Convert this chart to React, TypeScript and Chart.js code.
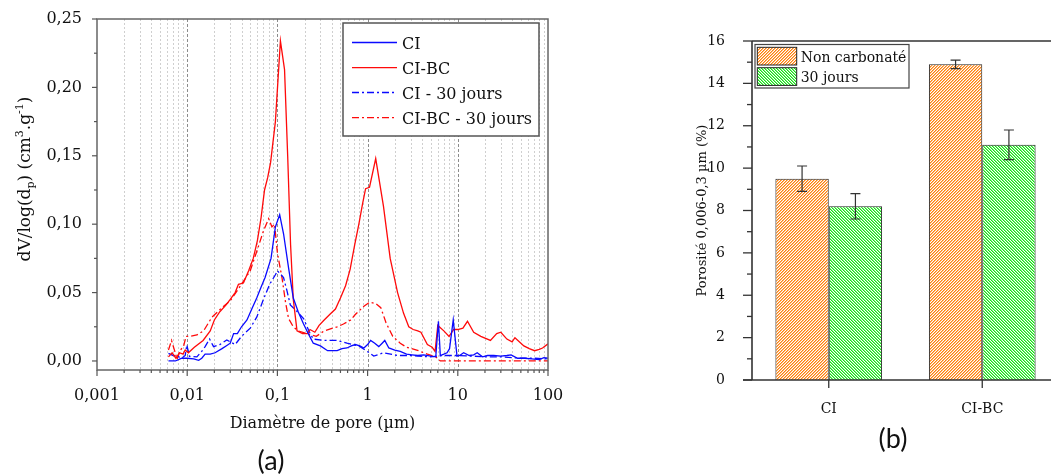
import React, { useEffect, useRef } from "react";
import { Chart, registerables } from "chart.js";

Chart.register(...registerables);

const SERIF = '"DejaVu Serif", "Liberation Serif", serif';
const SANS = 'Lato, "Liberation Sans", sans-serif';

// ---------- Panel (a): pore size distribution ----------
const ciDiameter = [0.0062, 0.0074, 0.008, 0.0087, 0.01, 0.0118, 0.0134, 0.0145, 0.0158, 0.018, 0.0204, 0.0243, 0.027, 0.03, 0.0327, 0.036, 0.04, 0.046, 0.052, 0.059, 0.066, 0.073, 0.085, 0.095, 0.106, 0.117, 0.133, 0.15, 0.17, 0.195, 0.22, 0.25, 0.3, 0.36, 0.46, 0.52, 0.59, 0.66, 0.73, 0.82, 0.91, 1.0, 1.08, 1.2, 1.33, 1.45, 1.55, 1.72, 2.0, 2.3, 2.7, 3.1, 3.6, 4.2, 5.0, 5.7, 6.1, 6.4, 7.0, 7.6, 8.1, 8.9, 9.8, 10.5, 11.6, 13.4, 15, 16.4, 18.8, 21.4, 25, 30, 35, 39, 46, 55, 66, 80, 90, 100];
const ciValue = [0, 0, 0.001, 0.002, 0.002, 0.0015, 0.0005, 0.002, 0.005, 0.005, 0.006, 0.009, 0.011, 0.013, 0.02, 0.02, 0.025, 0.03, 0.038, 0.046, 0.054, 0.061, 0.075, 0.098, 0.107, 0.093, 0.068, 0.046, 0.036, 0.027, 0.02, 0.013, 0.011, 0.0075, 0.0075, 0.009, 0.0095, 0.011, 0.012, 0.011, 0.0095, 0.012, 0.015, 0.013, 0.0105, 0.013, 0.015, 0.0095, 0.008, 0.007, 0.005, 0.0045, 0.004, 0.0045, 0.0035, 0.003, 0.029, 0.004, 0.005, 0.006, 0.009, 0.03, 0.0035, 0.004, 0.006, 0.004, 0.0045, 0.006, 0.003, 0.004, 0.004, 0.0035, 0.004, 0.0045, 0.002, 0.002, 0.0015, 0.001, 0.0025, 0.002];

const ciBcDiameter = [0.0062, 0.0068, 0.0075, 0.0082, 0.009, 0.0095, 0.0103, 0.012, 0.015, 0.018, 0.02, 0.023, 0.027, 0.03, 0.034, 0.037, 0.042, 0.048, 0.054, 0.06, 0.066, 0.072, 0.078, 0.084, 0.095, 0.108, 0.12, 0.13, 0.14, 0.15, 0.165, 0.19, 0.215, 0.23, 0.26, 0.29, 0.33, 0.38, 0.44, 0.5, 0.57, 0.64, 0.72, 0.8, 0.88, 0.95, 1.05, 1.23, 1.5, 1.78, 2.15, 2.5, 2.86, 3.2, 3.6, 3.9, 4.6, 5.2, 5.6, 6.0, 7.0, 8.0, 9.0, 10, 11.4, 12.8, 15, 18, 23, 27, 30, 35, 40, 43, 54, 62, 71, 80, 87, 100];
const ciBcValue = [0.003, 0.006, 0.002, 0.006, 0.005, 0.008, 0.006, 0.01, 0.015, 0.022, 0.03, 0.036, 0.041, 0.045, 0.05, 0.056, 0.057, 0.066, 0.075, 0.088, 0.105, 0.125, 0.134, 0.145, 0.175, 0.234, 0.213, 0.15, 0.085, 0.045, 0.022, 0.02, 0.02, 0.023, 0.021, 0.026, 0.03, 0.034, 0.038, 0.046, 0.055, 0.067, 0.085, 0.1, 0.115, 0.126, 0.127, 0.148, 0.113, 0.075, 0.05, 0.035, 0.025, 0.023, 0.022, 0.021, 0.012, 0.01, 0.007, 0.026, 0.022, 0.018, 0.023, 0.023, 0.024, 0.029, 0.021, 0.018, 0.015, 0.02, 0.021, 0.016, 0.014, 0.017, 0.011, 0.009, 0.0075, 0.0085, 0.0095, 0.0125];

const ci30Diameter = [0.0062, 0.007, 0.0077, 0.0087, 0.0095, 0.0099, 0.0106, 0.0128, 0.0145, 0.0158, 0.0177, 0.0196, 0.023, 0.0275, 0.034, 0.04, 0.05, 0.059, 0.07, 0.082, 0.095, 0.1, 0.117, 0.128, 0.139, 0.166, 0.195, 0.227, 0.25, 0.33, 0.46, 0.59, 0.8, 0.99, 1.17, 1.5, 2.15, 3.0, 5.0, 7.0, 10, 15, 20, 30, 50, 70, 100];
const ci30Value = [0.0056, 0.004, 0.0036, 0.002, 0.004, 0.0117, 0.0034, 0.003, 0.007, 0.0105, 0.016, 0.0105, 0.012, 0.0154, 0.012, 0.018, 0.024, 0.032, 0.045, 0.056, 0.063, 0.066, 0.061, 0.051, 0.041, 0.036, 0.031, 0.021, 0.016, 0.015, 0.015, 0.013, 0.011, 0.007, 0.0036, 0.006, 0.004, 0.004, 0.003, 0.004, 0.004, 0.0035, 0.003, 0.003, 0.002, 0.002, 0.0015];

const ciBc30Diameter = [0.0062, 0.0067, 0.0074, 0.0077, 0.0084, 0.0091, 0.0097, 0.0108, 0.0128, 0.0152, 0.0188, 0.0243, 0.03, 0.039, 0.05, 0.059, 0.07, 0.08, 0.087, 0.093, 0.1, 0.113, 0.123, 0.133, 0.15, 0.17, 0.213, 0.24, 0.27, 0.33, 0.46, 0.54, 0.65, 0.73, 0.91, 1.06, 1.23, 1.4, 1.6, 1.9, 2.3, 2.7, 3.5, 4.6, 5.7, 6.4, 10, 30, 100];
const ciBc30Value = [0.008, 0.015, 0.0056, 0.0012, 0.008, 0.0105, 0.018, 0.018, 0.019, 0.022, 0.032, 0.039, 0.044, 0.055, 0.066, 0.08, 0.095, 0.104, 0.098, 0.1, 0.079, 0.06, 0.043, 0.031, 0.025, 0.022, 0.02, 0.019, 0.018, 0.022, 0.025, 0.027, 0.03, 0.034, 0.04, 0.043, 0.042, 0.039, 0.028, 0.018, 0.013, 0.01, 0.008, 0.005, 0.003, 0, 0, 0, 0];

const xTickValuesA = [0.001, 0.01, 0.1, 1, 10, 100];
const xTickLabelsA = ["0,001", "0,01", "0,1", "1", "10", "100"];
const yTickValuesA = [0, 0.05, 0.1, 0.15, 0.2, 0.25];
const yTickLabelsA = ["0,00", "0,05", "0,10", "0,15", "0,20", "0,25"];
const yMinorTicksA = [0.025, 0.075, 0.125, 0.175, 0.225];
const legendLabelsA = ["CI", "CI-BC", "CI - 30 jours", "CI-BC - 30 jours"];

// ---------- Panel (b): porosity bars ----------
const categoriesB = ["CI", "CI-BC"];
const nonCarbonate = [9.5, 14.9];
const nonCarbonateErr = [0.6, 0.2];
const trenteJours = [8.2, 11.1];
const trenteJoursErr = [0.6, 0.7];
const legendLabelsB = ["Non carbonaté", "30 jours"];
const yTickValuesB = [0, 2, 4, 6, 8, 10, 12, 14, 16];
const yMinorTicksB = [1, 3, 5, 7, 9, 11, 13, 15];

const BLUE = "#0a0aff";
const RED = "#ff0a0a";
const DASHDOT = [7, 3, 2, 3];

function pts(xs: number[], ys: number[]) {
  return xs.map((x, i) => ({ x, y: ys[i] }));
}

function drawRich(ctx: any, segs: any[], cx: number, cy: number, rotate: boolean) {
  ctx.save();
  ctx.translate(cx, cy);
  if (rotate) ctx.rotate(-Math.PI / 2);
  let total = 0;
  const widths = segs.map((s) => {
    ctx.font = `${s.size}px ${SERIF}`;
    const w = ctx.measureText(s.t).width;
    total += w;
    return w;
  });
  let x = -total / 2;
  ctx.fillStyle = "#111";
  ctx.textBaseline = "alphabetic";
  ctx.textAlign = "left";
  segs.forEach((s, i) => {
    ctx.font = `${s.size}px ${SERIF}`;
    ctx.fillText(s.t, x, s.dy);
    x += widths[i];
  });
  ctx.restore();
}

function buildA(canvas: HTMLCanvasElement) {
  const W = 600, H = 475;
  const LEFT = 97, RIGHT = 548, TOP = 19, BOTTOM = 370;

  const decor = {
    id: "decorA",
    beforeDatasetsDraw(chart: any) {
      const { ctx, chartArea: a } = chart;
      const xs = chart.scales.x;
      ctx.save();
      ctx.lineWidth = 1;
      for (let e = -3; e <= 1; e++) {
        for (let m = 1; m <= 9; m++) {
          const v = m * Math.pow(10, e);
          if (e === -3 && m === 1) continue;
          const px = Math.round(xs.getPixelForValue(v)) + 0.5;
          ctx.beginPath();
          if (m === 1) {
            ctx.strokeStyle = "#8c8c8c";
            ctx.setLineDash([3, 2]);
          } else {
            ctx.strokeStyle = "#cfcfcf";
            ctx.setLineDash([2, 2]);
          }
          ctx.moveTo(px, a.top);
          ctx.lineTo(px, a.bottom);
          ctx.stroke();
        }
      }
      ctx.restore();
    },
    afterDatasetsDraw(chart: any) {
      const { ctx, chartArea: a } = chart;
      const xs = chart.scales.x;
      const ys = chart.scales.y;
      ctx.save();
      ctx.setLineDash([]);
      ctx.strokeStyle = "#666";
      ctx.lineWidth = 1.5;
      ctx.strokeRect(a.left, a.top, a.right - a.left, a.bottom - a.top);
      ctx.lineWidth = 1.2;
      ctx.strokeStyle = "#555";
      yTickValuesA.forEach((v) => {
        const py = ys.getPixelForValue(v);
        ctx.beginPath();
        ctx.moveTo(a.left - 5, py);
        ctx.lineTo(a.left, py);
        ctx.stroke();
      });
      yMinorTicksA.forEach((v) => {
        const py = ys.getPixelForValue(v);
        ctx.beginPath();
        ctx.moveTo(a.left - 3, py);
        ctx.lineTo(a.left, py);
        ctx.stroke();
      });
      for (let e = -3; e <= 2; e++) {
        for (let m = 1; m <= 9; m++) {
          const v = m * Math.pow(10, e);
          if (v > 100.0001) continue;
          const px = xs.getPixelForValue(v);
          ctx.beginPath();
          ctx.moveTo(px, a.bottom);
          ctx.lineTo(px, a.bottom + (m === 1 ? 6 : 3));
          ctx.stroke();
        }
      }
      // legend
      const bx = 343, by = 23, bw = 196, bh = 113;
      ctx.fillStyle = "#fff";
      ctx.fillRect(bx, by, bw, bh);
      ctx.strokeStyle = "#555";
      ctx.lineWidth = 1.5;
      ctx.strokeRect(bx, by, bw, bh);
      const rows = [42.5, 67.7, 92.5, 117.7];
      const colors = [BLUE, RED, BLUE, RED];
      rows.forEach((ry, i) => {
        ctx.beginPath();
        ctx.strokeStyle = colors[i];
        ctx.lineWidth = 1.3;
        ctx.setLineDash(i >= 2 ? DASHDOT : []);
        ctx.moveTo(352, ry);
        ctx.lineTo(397, ry);
        ctx.stroke();
        ctx.setLineDash([]);
        ctx.fillStyle = "#111";
        ctx.font = `16px ${SERIF}`;
        ctx.textAlign = "left";
        ctx.textBaseline = "alphabetic";
        ctx.fillText(legendLabelsA[i], 402, ry + 6.5);
      });
      ctx.restore();
      drawRich(ctx, [{ t: "Diamètre de pore (µm)", size: 16, dy: 0 }], (a.left + a.right) / 2, 428, false);
      drawRich(
        ctx,
        [
          { t: "dV/log(d", size: 17, dy: 0 },
          { t: "p", size: 11, dy: 4 },
          { t: ") (cm", size: 17, dy: 0 },
          { t: "3", size: 11, dy: -7 },
          { t: ".g", size: 17, dy: 0 },
          { t: "-1", size: 11, dy: -7 },
          { t: ")", size: 17, dy: 0 },
        ],
        30,
        179,
        true
      );
      ctx.save();
      ctx.fillStyle = "#111";
      ctx.font = `27px ${SANS}`;
      ctx.textAlign = "center";
      ctx.textBaseline = "middle";
      ctx.fillText("(a)", 271, 461);
      ctx.restore();
    },
  };

  return new Chart(canvas, {
    type: "line",
    data: {
      datasets: [
        { label: legendLabelsA[0], data: pts(ciDiameter, ciValue), borderColor: BLUE, borderWidth: 1.3, pointRadius: 0, tension: 0, fill: false },
        { label: legendLabelsA[1], data: pts(ciBcDiameter, ciBcValue), borderColor: RED, borderWidth: 1.3, pointRadius: 0, tension: 0, fill: false },
        { label: legendLabelsA[2], data: pts(ci30Diameter, ci30Value), borderColor: BLUE, borderWidth: 1.3, borderDash: DASHDOT, pointRadius: 0, tension: 0, fill: false },
        { label: legendLabelsA[3], data: pts(ciBc30Diameter, ciBc30Value), borderColor: RED, borderWidth: 1.3, borderDash: DASHDOT, pointRadius: 0, tension: 0, fill: false },
      ],
    } as any,
    options: {
      animation: false,
      responsive: false,
      maintainAspectRatio: false,
      events: [],
      layout: { padding: { left: 0, top: TOP, right: W - RIGHT, bottom: 0 } },
      plugins: { legend: { display: false }, tooltip: { enabled: false } },
      scales: {
        x: {
          type: "logarithmic",
          min: 0.001,
          max: 100,
          grid: { display: false },
          border: { display: false },
          afterBuildTicks: (s: any) => {
            s.ticks = xTickValuesA.map((v) => ({ value: v }));
          },
          afterFit: (s: any) => {
            s.height = H - BOTTOM;
          },
          ticks: {
            autoSkip: false,
            maxRotation: 0,
            padding: 8,
            color: "#111",
            font: { family: SERIF, size: 16 },
            callback: (v: any) => {
              const i = xTickValuesA.findIndex((t) => Math.abs(t - v) / t < 1e-6);
              return i >= 0 ? xTickLabelsA[i] : "";
            },
          },
        },
        y: {
          type: "linear",
          min: -0.0066,
          max: 0.25,
          grid: { display: false },
          border: { display: false },
          afterBuildTicks: (s: any) => {
            s.ticks = yTickValuesA.map((v) => ({ value: v }));
          },
          afterFit: (s: any) => {
            s.width = LEFT;
          },
          ticks: {
            autoSkip: false,
            padding: 7,
            color: "#111",
            font: { family: SERIF, size: 16 },
            callback: (v: any) => {
              const i = yTickValuesA.findIndex((t) => Math.abs(t - v) < 1e-6);
              return i >= 0 ? yTickLabelsA[i] : "";
            },
          },
        },
      },
    } as any,
    plugins: [decor],
  });
}

function makeHatch(ctx: any, rgb: number[], dir: number, period: number) {
  const c = document.createElement("canvas");
  c.width = period;
  c.height = period;
  const g = c.getContext("2d")!;
  const img = g.createImageData(period, period);
  for (let j = 0; j < period; j++) {
    for (let i = 0; i < period; i++) {
      const k = (((dir > 0 ? i + j : i - j) % period) + period) % period;
      const t = k === 0 ? 1 : k === 1 ? 0.55 : 0;
      const o = (j * period + i) * 4;
      img.data[o] = Math.round(255 + (rgb[0] - 255) * t);
      img.data[o + 1] = Math.round(255 + (rgb[1] - 255) * t);
      img.data[o + 2] = Math.round(255 + (rgb[2] - 255) * t);
      img.data[o + 3] = 255;
    }
  }
  g.putImageData(img, 0, 0);
  return ctx.createPattern(c, "repeat");
}

function buildB(canvas: HTMLCanvasElement) {
  const W = 480, H = 475;
  const LEFT = 152, RIGHT = 459, TOP = 41, BOTTOM = 380;
  const ctx0 = canvas.getContext("2d");
  const patOrange = makeHatch(ctx0, [255, 128, 10], 1, 3);
  const patGreen = makeHatch(ctx0, [20, 225, 20], -1, 3);
  const errs = [nonCarbonateErr, trenteJoursErr];
  const vals = [nonCarbonate, trenteJours];

  const decor = {
    id: "decorB",
    afterDatasetsDraw(chart: any) {
      const { ctx, chartArea: a } = chart;
      const ys = chart.scales.y;
      const xs = chart.scales.x;
      ctx.save();
      ctx.strokeStyle = "#333";
      ctx.lineWidth = 1.2;
      [0, 1].forEach((d) => {
        const meta = chart.getDatasetMeta(d);
        meta.data.forEach((bar: any, j: number) => {
          const x = bar.x;
          const yt = ys.getPixelForValue(vals[d][j] + errs[d][j]);
          const yb = ys.getPixelForValue(vals[d][j] - errs[d][j]);
          ctx.beginPath();
          ctx.moveTo(x, yt);
          ctx.lineTo(x, yb);
          ctx.moveTo(x - 5, yt);
          ctx.lineTo(x + 5, yt);
          ctx.moveTo(x - 5, yb);
          ctx.lineTo(x + 5, yb);
          ctx.stroke();
        });
      });
      ctx.strokeStyle = "#333";
      ctx.lineWidth = 1.6;
      ctx.beginPath();
      ctx.moveTo(a.left, a.top);
      ctx.lineTo(a.left, a.bottom);
      ctx.moveTo(a.left - 9, a.bottom);
      ctx.lineTo(a.right + 5, a.bottom);
      ctx.moveTo(a.left, a.top);
      ctx.lineTo(a.right + 5, a.top);
      ctx.stroke();
      ctx.lineWidth = 1.3;
      yTickValuesB.forEach((v) => {
        const py = ys.getPixelForValue(v);
        ctx.beginPath();
        ctx.moveTo(a.left - 9, py);
        ctx.lineTo(a.left, py);
        ctx.stroke();
      });
      yMinorTicksB.forEach((v) => {
        const py = ys.getPixelForValue(v);
        ctx.beginPath();
        ctx.moveTo(a.left - 5, py);
        ctx.lineTo(a.left, py);
        ctx.stroke();
      });
      categoriesB.forEach((_, i) => {
        const px = xs.getPixelForValue(i);
        ctx.beginPath();
        ctx.moveTo(px, a.bottom);
        ctx.lineTo(px, a.bottom + 8);
        ctx.stroke();
      });
      // legend
      const bx = 155, by = 44.5, bw = 154, bh = 43.5;
      ctx.fillStyle = "#fff";
      ctx.fillRect(bx, by, bw, bh);
      ctx.strokeStyle = "#444";
      ctx.lineWidth = 1.2;
      ctx.strokeRect(bx, by, bw, bh);
      const pats = [patOrange, patGreen];
      const sy = [47.3, 67.7];
      sy.forEach((y0, i) => {
        ctx.fillStyle = pats[i];
        ctx.fillRect(157.3, y0, 39.4, 17.7);
        ctx.strokeStyle = "#222";
        ctx.lineWidth = 1;
        ctx.strokeRect(157.3, y0, 39.4, 17.7);
        ctx.fillStyle = "#111";
        ctx.font = `14px ${SERIF}`;
        ctx.textAlign = "left";
        ctx.textBaseline = "alphabetic";
        ctx.fillText(legendLabelsB[i], 200.7, y0 + 8.85 + 5.5);
      });
      ctx.restore();
      drawRich(ctx, [{ t: "Porosité 0,006-0,3 µm (%)", size: 13, dy: 0 }], 106, (a.top + a.bottom) / 2, true);
      ctx.save();
      ctx.fillStyle = "#111";
      ctx.font = `27px ${SANS}`;
      ctx.textAlign = "center";
      ctx.textBaseline = "middle";
      ctx.fillText("(b)", 293, 439);
      ctx.restore();
    },
  };

  return new Chart(canvas, {
    type: "bar",
    data: {
      labels: categoriesB,
      datasets: [
        { label: legendLabelsB[0], data: nonCarbonate, backgroundColor: patOrange, borderColor: "#222", borderWidth: 1, categoryPercentage: 0.695, barPercentage: 1 },
        { label: legendLabelsB[1], data: trenteJours, backgroundColor: patGreen, borderColor: "#222", borderWidth: 1, categoryPercentage: 0.695, barPercentage: 1 },
      ],
    } as any,
    options: {
      animation: false,
      responsive: false,
      maintainAspectRatio: false,
      events: [],
      layout: { padding: { left: 0, top: TOP, right: W - RIGHT, bottom: 0 } },
      plugins: { legend: { display: false }, tooltip: { enabled: false } },
      scales: {
        x: {
          type: "category",
          offset: true,
          grid: { display: false },
          border: { display: false },
          afterFit: (s: any) => {
            s.height = H - BOTTOM;
          },
          ticks: { padding: 13, color: "#111", font: { family: SERIF, size: 14 } },
        },
        y: {
          type: "linear",
          min: 0,
          max: 16,
          grid: { display: false },
          border: { display: false },
          afterBuildTicks: (s: any) => {
            s.ticks = yTickValuesB.map((v) => ({ value: v }));
          },
          afterFit: (s: any) => {
            s.width = LEFT;
          },
          ticks: {
            autoSkip: false,
            padding: 19,
            color: "#111",
            font: { family: SERIF, size: 14 },
            callback: (v: any) => String(v),
          },
        },
      },
    } as any,
    plugins: [decor],
  });
}

export default function App() {
  const refA = useRef<HTMLCanvasElement>(null);
  const refB = useRef<HTMLCanvasElement>(null);
  useEffect(() => {
    const a = buildA(refA.current!);
    const b = buildB(refB.current!);
    return () => {
      a.destroy();
      b.destroy();
    };
  }, []);
  return (
    <div style={{ position: "fixed", left: 0, top: 0, width: 1051, height: 475, overflow: "hidden", background: "#fff" }}>
      <canvas ref={refA} width={600} height={475} style={{ position: "absolute", left: 0, top: 0, width: 600, height: 475 }} />
      <canvas ref={refB} width={480} height={475} style={{ position: "absolute", left: 600, top: 0, width: 480, height: 475 }} />
    </div>
  );
}
